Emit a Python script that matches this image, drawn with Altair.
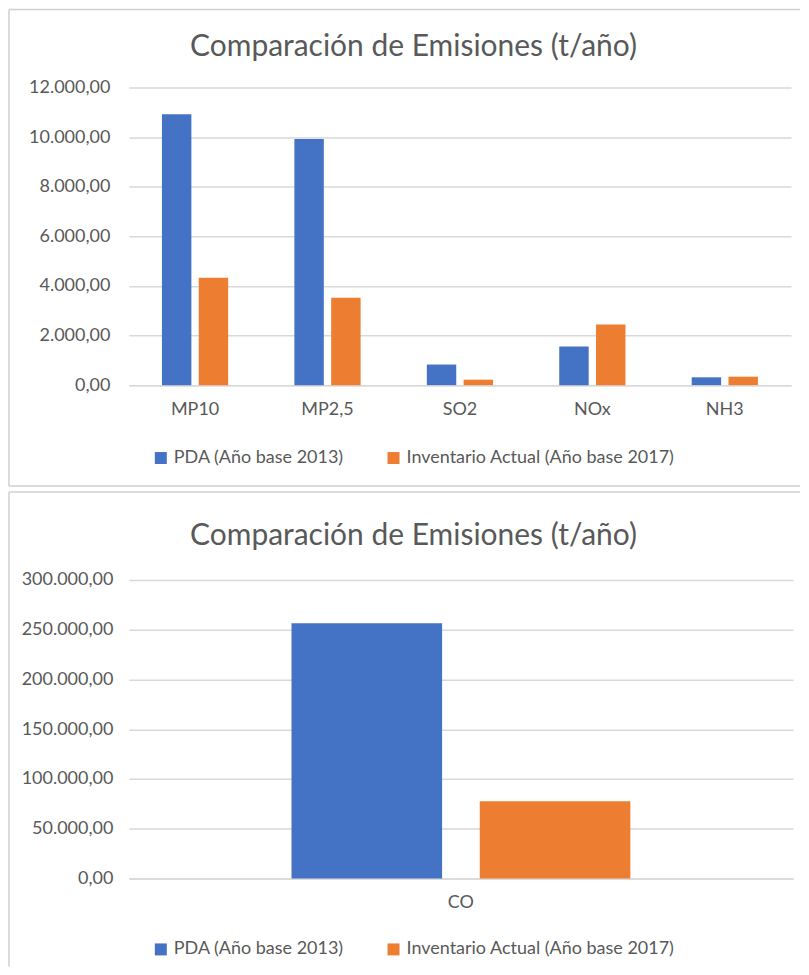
import altair as alt
import pandas as pd

# ---- data -------------------------------------------------------------
categories = ["MP10", "MP2,5", "SO2", "NOx", "NH3"]
series = ["PDA (Año base 2013)", "Inventario Actual (Año base 2017)"]
pda_values = [10925, 9920, 830, 1560, 315]
inventario_values = [4330, 3520, 220, 2440, 340]

co_categories = ["CO"]
co_pda_values = [256500]
co_inventario_values = [77500]

y_ticks_top = [0, 2000, 4000, 6000, 8000, 10000, 12000]
y_ticks_bottom = [0, 50000, 100000, 150000, 200000, 250000, 300000]
title_text = "Comparación de Emisiones (t/año)"
colors = ["#4472C4", "#ED7D31"]

FONT = "Lato"
TXT = "#595959"
GRID = "#d9d9d9"
BORDER = "#d0d0d0"


def long_df(cats, a, b):
    rows = []
    for c, va, vb in zip(cats, a, b):
        rows.append({"cat": c, "serie": series[0], "valor": va})
        rows.append({"cat": c, "serie": series[1], "valor": vb})
    return pd.DataFrame(rows)


label_expr = ("replace(replace(replace(format(datum.value, ',.2f'), ',', '#'), "
              "'.', ','), '#', '.')")


def panel(df, cats, ticks, width, height, ylabpad, pouter, lx, ly, tx, ty,
          bx1, bx2, by1, by2, bottom_line):
    bars = alt.Chart(df).mark_bar().encode(
        x=alt.X("cat:N", sort=cats,
                scale=alt.Scale(paddingInner=0.5, paddingOuter=pouter),
                axis=alt.Axis(title=None, labelAngle=0, labelFont=FONT,
                              labelFontSize=18, labelColor=TXT, labelPadding=15,
                              ticks=False, domainColor=GRID, domainWidth=1.5)),
        xOffset=alt.XOffset("serie:N", sort=series,
                            scale=alt.Scale(paddingInner=0.2)),
        y=alt.Y("valor:Q",
                scale=alt.Scale(domain=[ticks[0], ticks[-1]], nice=False),
                axis=alt.Axis(title=None, values=ticks, labelExpr=label_expr,
                              labelFont=FONT, labelFontSize=18, labelColor=TXT,
                              labelPadding=ylabpad, ticks=False, domain=False,
                              grid=True, gridColor=GRID, gridWidth=1.5)),
        color=alt.Color("serie:N", sort=series,
                        scale=alt.Scale(domain=series, range=colors),
                        legend=alt.Legend(title=None, orient="none",
                                          legendX=lx, legendY=ly,
                                          direction="horizontal",
                                          symbolType="square", symbolSize=144,
                                          symbolStrokeWidth=0,
                                          labelFont=FONT, labelFontSize=18,
                                          labelColor=TXT, labelOffset=4,
                                          labelLimit=0, columnPadding=40)),
    )

    one = pd.DataFrame({"k": [0]})
    lines = [
        alt.Chart(one).mark_rule(color=BORDER, strokeWidth=1.5).encode(
            x=alt.value(bx1), y=alt.value(by1), y2=alt.value(by2)),
        alt.Chart(one).mark_rule(color=BORDER, strokeWidth=1.5).encode(
            x=alt.value(bx1), x2=alt.value(bx2), y=alt.value(by1)),
    ]
    if bottom_line:
        lines.append(
            alt.Chart(one).mark_rule(color=BORDER, strokeWidth=1.5).encode(
                x=alt.value(bx1), x2=alt.value(bx2), y=alt.value(by2)))

    title = alt.Chart(pd.DataFrame({"t": [title_text]})).mark_text(
        font=FONT, fontSize=30, color=TXT, align="center", baseline="middle"
    ).encode(x=alt.value(tx), y=alt.value(ty), text="t:N")

    return alt.layer(*lines, bars, title).properties(width=width, height=height)


top = panel(long_df(categories, pda_values, inventario_values), categories,
            y_ticks_top, 663, 298, 19, 0.25, 23, 362, 285, -41,
            -120, 672, -78, 399, True)

bottom = panel(long_df(co_categories, co_pda_values, co_inventario_values),
               co_categories, y_ticks_bottom, 665, 299, 16, 0.24, 23, 361, 285, -44,
               -120, 672, -88, 387, False)

chart = alt.vconcat(top, bottom, spacing=4).resolve_scale(
    x="independent", xOffset="independent", y="independent"
).resolve_legend(color="independent").properties(
    padding={"left": 0, "top": 0, "right": 0, "bottom": 0}
).configure_view(strokeWidth=0)

chart.save("out.html", embed_options={"renderer": "svg", "actions": False})
